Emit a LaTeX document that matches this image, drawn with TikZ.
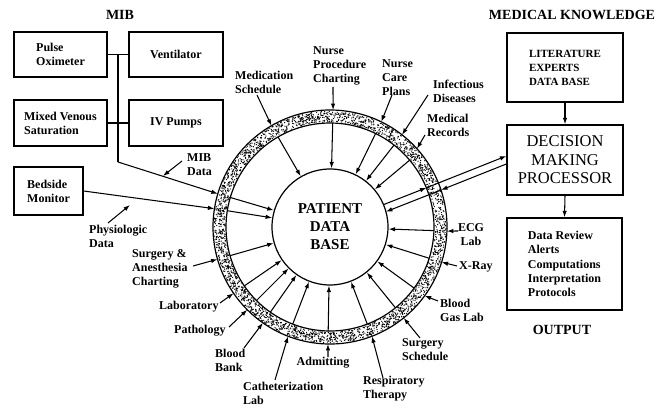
\documentclass[tikz,border=0pt]{standalone}
\usepackage{fontspec}
\setmainfont{Liberation Serif}
\usetikzlibrary{arrows.meta,calc}
\newcommand\pdbinput[4]{%
  \coordinate (#1o) at ($(C)+(#3:117)$);
  \coordinate (#1i) at ($(C)+(#4:104)$);
  \draw[arr] (#2) -- (#1o);
  \draw[arr] (#1i) -- (pdb);}
\begin{document}
\begin{tikzpicture}[x=1pt,y=-1pt,
  arr/.style={-{Latex[length=6.5pt,width=4.5pt]},line width=1.05pt},
  plain/.style={line width=1.05pt},
  box/.style={draw,line width=1.3pt,align=left,inner sep=0pt,
    font=\bfseries\fontsize{12}{14}\selectfont},
  lbl/.style={font=\bfseries\fontsize{12}{14}\selectfont,align=left,inner sep=0pt},
  hdr/.style={font=\bfseries\fontsize{14}{16}\selectfont,inner sep=0pt}]
\useasboundingbox (0,0) rectangle (664,409);
\coordinate (C) at (330,227);
% ring
\fill[white] (C) circle (117);
\pgfmathsetseed{7}
\foreach \i in {1,...,2600}{%
  \pgfmathsetmacro\ang{360*rnd}\pgfmathsetmacro\rad{105+11*rnd}%
  \fill (C) ++(\ang:\rad) circle (0.65);}
\draw[line width=1.2pt] (C) circle (117);
\draw[line width=1.2pt] (C) circle (104);
\node[circle,draw,line width=1.2pt,minimum size=116pt,inner sep=0pt,
  font=\bfseries\fontsize{15}{18}\selectfont,align=center] (pdb) at (C) {PATIENT\\DATA\\BASE};
% headers
\node[hdr] (hmib) at (120,15) {MIB};
\node[hdr] (hmk) at (572,15) {MEDICAL KNOWLEDGE};
\node[hdr] (hout) at (562,330) {OUTPUT};
% MIB boxes
\node[box,minimum width=93pt,minimum height=45pt] (pulse) at (60.5,54.5) {Pulse\\Oximeter};
\node[box,minimum width=94pt,minimum height=45pt] (vent) at (176,54.5) {Ventilator};
\node[box,minimum width=93pt,minimum height=46pt] (mixed) at (60.5,123) {Mixed Venous\\Saturation};
\node[box,minimum width=94pt,minimum height=46pt] (ivp) at (176,123) {IV Pumps};
\node[box,minimum width=69pt,minimum height=48pt] (bed) at (48.5,191) {Bedside\\Monitor};
\draw[plain] (pulse.east) -- (vent.west);
\draw[plain] (mixed.east) -- (ivp.west);
\coordinate (bustop) at ($(pulse.east)!0.5!(vent.west)$);
\coordinate (busbot) at (118,162);
\draw[plain] (bustop) -- (busbot);
% right side boxes
\node[box,minimum width=116pt,minimum height=69pt,font=\bfseries\fontsize{11}{14}\selectfont] (lit) at (565,67.5) {LITERATURE\\EXPERTS\\DATA BASE};
\node[box,minimum width=116pt,minimum height=70pt,align=center,font=\fontsize{16.5}{18.5}\selectfont] (dec) at (565,160) {DECISION\\MAKING\\PROCESSOR};
\node[box,minimum width=115pt,minimum height=92pt,font=\bfseries\fontsize{12}{14.25}\selectfont] (out) at (564.5,264) {Data Review\\Alerts\\Computations\\Interpretation\\Protocols};
\draw[arr] (lit.south) -- (dec.north);
\draw[arr] (dec.south) -- (out.north);
% labels
\node[lbl,anchor=west] (medL) at (235,82) {Medication\\Schedule};
\node[lbl,anchor=west] (nprocL) at (313,66) {Nurse\\Procedure\\Charting};
\node[lbl,anchor=west] (ncareL) at (382,78) {Nurse\\Care\\Plans};
\node[lbl,anchor=west] (infL) at (433,91) {Infectious\\Diseases};
\node[lbl,anchor=west] (mrecL) at (427,125) {Medical\\Records};
\node[lbl,anchor=west] (mibL) at (187,164.5) {MIB\\Data};
\node[lbl,anchor=west] (physL) at (89,236.5) {Physiologic\\Data};
\node[lbl,anchor=west] (saL) at (132,269) {Surgery \&\\Anesthesia\\Charting};
\node[lbl,anchor=west] (labL) at (159,307) {Laboratory};
\node[lbl,anchor=west] (pathL) at (174,331) {Pathology};
\node[lbl,anchor=west] (bbL) at (215,360) {Blood\\Bank};
\node[lbl,anchor=west] (cathL) at (243,393) {Catheterization\\Lab};
\node[lbl] (admL) at (323,363) {Admitting};
\node[lbl,anchor=west] (respL) at (363,389) {Respiratory\\Therapy};
\node[lbl,anchor=west] (ssL) at (402,350) {Surgery\\Schedule};
\node[lbl,anchor=west] (bgL) at (440,310) {Blood\\Gas Lab};
\node[lbl,anchor=west] (xrL) at (459,267) {X-Ray};
\node[lbl,align=center] (ecgL) at (471,234.5) {ECG\\Lab};
% start points of the incoming arrows
\coordinate (medS) at (257,95);
\coordinate (nprocS) at (333,87);
\coordinate (ncareS) at (392,95);
\coordinate (infS) at (428,95);
\coordinate (mrecS) at (425,135);
\coordinate (saS) at (193,266);
\coordinate (labS) at (220,303);
\coordinate (pathS) at (229,327);
\coordinate (bbS) at (244,348);
\coordinate (cathS) at (275,380);
\coordinate (admS) at (328,357);
\coordinate (respS) at (383,378);
\coordinate (ssS) at (420,338);
\coordinate (bgS) at (438,301);
\coordinate (xrS) at (457,266);
\coordinate (ecgS) at (458,231);
\pdbinput{med}{medS}{-120}{-120}
\pdbinput{nproc}{nprocS}{-88.5}{-88.5}
\pdbinput{ncare}{ncareS}{-64}{-64}
\pdbinput{inf}{infS}{-52}{-52}
\pdbinput{mrec}{mrecS}{-42}{-40}
\pdbinput{mib}{busbot}{-163.5}{-163.5}
\pdbinput{phys}{bed.east}{-171}{-171}
\pdbinput{sa}{saS}{164}{164}
\pdbinput{lab}{labS}{145.5}{145.5}
\pdbinput{path}{pathS}{135}{135}
\pdbinput{bb}{bbS}{125}{125}
\pdbinput{cath}{cathS}{111}{111}
\pdbinput{adm}{admS}{91}{91}
\pdbinput{resp}{respS}{69}{69}
\pdbinput{ss}{ssS}{51}{51}
\pdbinput{bg}{bgS}{36}{36}
\pdbinput{xr}{xrS}{17.5}{17.5}
\pdbinput{ecg}{ecgS}{2}{2}
% pointers to the data lines
\coordinate (mibP) at (182,161);
\coordinate (mibT) at (163,176);
\draw[arr] (mibP) -- (mibT);
\coordinate (physP) at (108,223);
\coordinate (physT) at (130,205);
\draw[arr] (physP) -- (physT);
% double line between data base and processor
\coordinate (u2) at ($(dec.west)+(0,-4)$);
\coordinate (l2) at ($(dec.west)+(0,4)$);
\coordinate (u1) at (383.6,204.6);
\coordinate (l1) at (385.9,211.7);
\coordinate (um) at (426.4,187.8);
\coordinate (lm) at (441,190);
\draw[arr] (u1) -- (um);
\draw[arr] (um) -- (u2);
\draw[arr] (l2) -- (lm);
\draw[arr] (lm) -- (l1);
\end{tikzpicture}
\end{document}
